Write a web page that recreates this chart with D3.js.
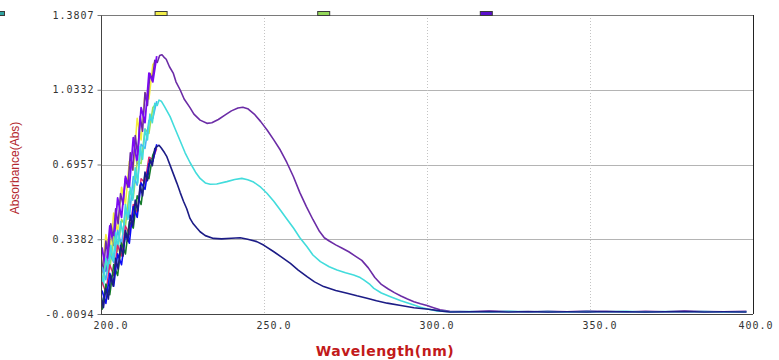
<!DOCTYPE html>
<html>
<head>
<meta charset="utf-8">
<script src="https://cdn.jsdelivr.net/npm/d3@7"></script>
<style>
  html, body { margin: 0; padding: 0; background: #fff; }
  svg { display: block; }
</style>
</head>
<body>
<div id="chart"></div>
<script>
// UV spectra, absorbance vs wavelength

const xTicks = [200, 250, 300, 350, 400];
const xTickLabels = ['200.0', '250.0', '300.0', '350.0', '400.0'];
const yTickLabels = ['-0.0094', '0.3382', '0.6957', '1.0332', '1.3807'];
const yMin = -0.0094, yMax = 1.3807;

const legendColors = ['#2fa3a0', '#f2ee4a', '#94d85a', '#5b10cc'];

// noisy rising edge, two sampling grids
const riseWlA = [200.0, 200.75, 201.5, 202.25, 203.0, 203.75, 204.5, 205.25, 206.0, 206.75, 207.5, 208.25,
  209.0, 209.75, 210.5, 211.25, 212.0, 212.75, 213.5, 214.25, 215.0, 215.75, 216.5, 217.25];
const riseWlB = [200.3, 201.5, 202.7, 203.9, 205.1, 206.3, 207.5, 208.7, 209.9, 211.1, 212.3, 213.5, 214.7, 215.9, 217.1];

const purpleRise = [0.26, 0.18, 0.33, 0.25, 0.41, 0.34, 0.48, 0.41, 0.55, 0.50, 0.62, 0.58,
  0.74, 0.66, 0.82, 0.73, 0.91, 0.84, 1.02, 0.96, 1.11, 1.08, 1.17, 1.16];
const cyanRise = [0.20, 0.12, 0.25, 0.18, 0.31, 0.24, 0.37, 0.30, 0.42, 0.36, 0.50, 0.43,
  0.58, 0.52, 0.67, 0.60, 0.77, 0.71, 0.85, 0.80, 0.92, 0.88, 0.97, 0.96];
const navyRise = [0.08, 0.02, 0.11, 0.06, 0.17, 0.12, 0.25, 0.20, 0.31, 0.26, 0.38, 0.33,
  0.45, 0.40, 0.52, 0.47, 0.59, 0.54, 0.65, 0.61, 0.71, 0.68, 0.76, 0.77];

const yellowRise = [0.18, 0.36, 0.26, 0.46, 0.37, 0.58, 0.50, 0.70, 0.66, 0.90, 0.80, 1.02, 0.99, 1.15, 1.17];
const violetRise = [0.30, 0.19, 0.40, 0.31, 0.53, 0.44, 0.63, 0.58, 0.81, 0.69, 0.95, 0.88, 1.11, 1.07, 1.19];
const greenRise = [0.13, 0.24, 0.20, 0.35, 0.28, 0.43, 0.40, 0.56, 0.53, 0.70, 0.69, 0.85, 0.83, 0.95, 0.97];
const skyRise = [0.21, 0.15, 0.27, 0.23, 0.38, 0.31, 0.47, 0.44, 0.63, 0.59, 0.78, 0.76, 0.89, 0.90, 0.98];
const magentaRise = [0.14, 0.09, 0.22, 0.17, 0.31, 0.26, 0.40, 0.36, 0.50, 0.46, 0.62, 0.60, 0.72, 0.71, 0.76];
const darkGreenRise = [0.01, 0.13, 0.08, 0.22, 0.17, 0.32, 0.27, 0.42, 0.39, 0.54, 0.50, 0.64, 0.62, 0.73, 0.77];
const blueRise = [0.10, 0.04, 0.18, 0.12, 0.27, 0.22, 0.36, 0.32, 0.49, 0.44, 0.60, 0.57, 0.69, 0.70, 0.78];

// smooth part after the peak
const purpleTailWl = [218.0, 218.7, 219.3, 220.0, 221.0, 222.2, 223.0, 224.3, 225.5, 227.3, 228.5, 230.4, 232.5,
  234.0, 236.0, 238.0, 240.0, 242.0, 243.5, 245.0, 247.0, 249.0, 251.0, 253.0, 255.0, 257.0, 259.0, 261.0,
  263.0, 265.0, 267.0, 268.5, 270.0, 272.0, 274.0, 276.0, 278.0, 280.0, 282.0, 284.0, 286.0, 288.0, 290.0,
  292.0, 294.0, 296.0, 298.0, 300.0, 302.0, 304.0];
const purpleTail = [1.192, 1.196, 1.185, 1.175, 1.14, 1.109, 1.07, 1.032, 0.99, 0.95, 0.92, 0.892, 0.877,
  0.880, 0.895, 0.915, 0.935, 0.948, 0.952, 0.945, 0.920, 0.885, 0.845, 0.800, 0.753, 0.695, 0.630, 0.555,
  0.490, 0.430, 0.375, 0.345, 0.330, 0.312, 0.296, 0.280, 0.260, 0.240, 0.205, 0.160, 0.128, 0.108, 0.090,
  0.074, 0.060, 0.048, 0.038, 0.030, 0.020, 0.010];

const cyanTailWl = [217.8, 218.5, 219.5, 221.2, 222.5, 224.3, 225.8, 227.3, 229.0, 230.4, 232.0, 233.5, 235.5,
  238.6, 241.0, 243.2, 245.0, 246.8, 249.0, 250.9, 253.0, 255.0, 257.0, 259.1, 261.0, 263.2, 265.0, 267.3,
  270.0, 272.4, 275.0, 277.5, 279.5, 280.6, 282.5, 283.7, 286.0, 288.8, 292.0, 296.0, 298.0, 300.5, 303.0];
const cyanTail = [0.985, 0.980, 0.955, 0.908, 0.860, 0.795, 0.740, 0.695, 0.650, 0.621, 0.600, 0.594, 0.595,
  0.606, 0.616, 0.621, 0.615, 0.604, 0.580, 0.552, 0.515, 0.474, 0.432, 0.389, 0.345, 0.303, 0.265, 0.234,
  0.210, 0.195, 0.182, 0.172, 0.160, 0.149, 0.128, 0.110, 0.088, 0.071, 0.052, 0.032, 0.022, 0.0125, 0.005];

const navyTailWl = [217.8, 218.5, 219.5, 220.2, 221.5, 223.3, 224.3, 225.3, 226.3, 227.3, 228.3, 229.4, 230.4,
  232.0, 234.5, 237.0, 240.0, 242.7, 245.0, 247.8, 250.0, 252.9, 255.5, 258.1, 260.5, 263.2, 265.5, 268.3,
  272.0, 275.5, 278.5, 281.6, 284.5, 287.8, 292.0, 296.0, 300.5, 304.0];
const navyTail = [0.775, 0.762, 0.740, 0.722, 0.670, 0.598, 0.555, 0.515, 0.480, 0.435, 0.410, 0.390, 0.373,
  0.355, 0.342, 0.340, 0.343, 0.345, 0.338, 0.327, 0.310, 0.281, 0.254, 0.226, 0.195, 0.164, 0.140, 0.118,
  0.100, 0.087, 0.075, 0.064, 0.052, 0.041, 0.030, 0.020, 0.0125, 0.005];

// flat baseline
const baseWl = [307, 313, 319, 325, 331, 337, 343, 349, 355, 361, 367, 373, 379, 385, 391, 398];
const purpleBase = [0.003, 0.001, 0.004, 0.002, 0.000, 0.003, 0.001, 0.004, 0.002, 0.000, 0.003, 0.001, 0.004, 0.002, 0.001, 0.003];
const cyanBase = [0.001, 0.002, 0.000, 0.003, 0.001, 0.002, 0.000, 0.002, 0.001, 0.003, 0.000, 0.002, 0.001, 0.002, 0.000, 0.001];
const navyBase = [0.000, 0.001, 0.002, 0.000, 0.002, 0.000, 0.001, 0.000, 0.002, 0.001, 0.000, 0.001, 0.002, 0.000, 0.001, 0.000];

const series = [
  { color: '#f4ec3c', wl: riseWlB, abs: yellowRise, w: 1.6 },
  { color: '#6b2ca6', wl: riseWlA.concat(purpleTailWl, baseWl), abs: purpleRise.concat(purpleTail, purpleBase), w: 1.6 },
  { color: '#7a08f2', wl: riseWlB, abs: violetRise, w: 1.8 },
  { color: '#9be05a', wl: riseWlB, abs: greenRise, w: 1.6 },
  { color: '#45b4f5', wl: riseWlB, abs: skyRise, w: 1.6 },
  { color: '#42dcdc', wl: riseWlA.concat(cyanTailWl, baseWl), abs: cyanRise.concat(cyanTail, cyanBase), w: 1.6 },
  { color: '#e0206e', wl: riseWlB, abs: magentaRise, w: 1.4 },
  { color: '#137a2a', wl: riseWlB, abs: darkGreenRise, w: 1.6 },
  { color: '#0a0af5', wl: riseWlB, abs: blueRise, w: 1.6 },
  { color: '#1c1c86', wl: riseWlA.concat(navyTailWl, baseWl), abs: navyRise.concat(navyTail, navyBase), w: 1.6 }
];

const width = 779, height = 360;
const plotLeft = 101, plotRight = 753, plotTop = 15, plotBottom = 314;

const svg = d3.select('#chart').append('svg')
  .attr('width', width)
  .attr('height', height)
  .attr('viewBox', [0, 0, width, height].join(' '));

const x = d3.scaleLinear().domain([200, 400]).range([plotLeft, plotRight]);
const y = d3.scaleLinear().domain([yMin, yMax]).range([plotBottom, plotTop]);

// tick rows sit evenly spaced across the value range
const yTicks = d3.range(yTickLabels.length).map(i => yMin + (yMax - yMin) * i / (yTickLabels.length - 1));

// grid
svg.append('g')
  .selectAll('line')
  .data(yTicks.slice(1, -1))
  .join('line')
    .attr('x1', plotLeft).attr('x2', plotRight)
    .attr('y1', d => Math.round(y(d)) + 0.5).attr('y2', d => Math.round(y(d)) + 0.5)
    .attr('stroke', '#b4b4b4');

svg.append('g')
  .selectAll('line')
  .data(xTicks.slice(1, -1))
  .join('line')
    .attr('x1', d => Math.round(x(d)) + 0.5).attr('x2', d => Math.round(x(d)) + 0.5)
    .attr('y1', plotTop).attr('y2', plotBottom)
    .attr('stroke', '#c4c4c4')
    .attr('stroke-dasharray', '1,2');

// frame
svg.append('line').attr('x1', plotLeft).attr('x2', plotRight).attr('y1', plotTop + 0.5).attr('y2', plotTop + 0.5).attr('stroke', '#7a7a7a');
svg.append('line').attr('x1', plotRight + 0.5).attr('x2', plotRight + 0.5).attr('y1', plotTop).attr('y2', plotBottom).attr('stroke', '#222');

// curves
svg.append('defs').append('clipPath').attr('id', 'plot')
  .append('rect').attr('x', plotLeft).attr('y', plotTop).attr('width', plotRight - plotLeft).attr('height', plotBottom - plotTop + 1);

const line = d3.line()
  .x(d => x(d[0]))
  .y(d => y(d[1]));

svg.append('g')
  .attr('clip-path', 'url(#plot)')
  .selectAll('path')
  .data(series)
  .join('path')
    .attr('d', s => line(s.wl.map((w, i) => [w, s.abs[i]])))
    .attr('fill', 'none')
    .attr('stroke', s => s.color)
    .attr('stroke-width', s => s.w)
    .attr('stroke-linejoin', 'round');

// axes
const yAxis = svg.append('g')
  .attr('transform', `translate(${plotLeft + 0.5},0)`)
  .call(d3.axisLeft(y).tickValues(yTicks).tickSize(4).tickPadding(3)
    .tickFormat((d, i) => yTickLabels[i]));
yAxis.select('.domain').attr('stroke', '#444').attr('d', `M0,${plotTop}V${plotBottom}`);
yAxis.selectAll('.tick line').attr('stroke', '#777');
yAxis.selectAll('.tick text')
  .attr('fill', '#333')
  .style('font-family', '"DejaVu Sans Mono", monospace')
  .style('font-size', '10px')
  .style('letter-spacing', '1px');

const xAxis = svg.append('g')
  .attr('transform', `translate(0,${plotBottom + 0.5})`)
  .call(d3.axisBottom(x).tickValues(xTicks).tickSize(0).tickPadding(7)
    .tickFormat((d, i) => xTickLabels[i]));
xAxis.select('.domain').attr('stroke', '#444').attr('d', `M${plotLeft},0H${plotRight}`);
xAxis.selectAll('.tick text')
  .attr('fill', '#333')
  .attr('text-anchor', 'start')
  .attr('dx', (d, i) => i === xTicks.length - 1 ? -15 : -8)
  .style('font-family', '"DejaVu Sans Mono", monospace')
  .style('font-size', '10px')
  .style('letter-spacing', '1px');

// axis titles
svg.append('text')
  .attr('transform', 'translate(19,168) rotate(-90)')
  .attr('text-anchor', 'middle')
  .attr('fill', '#b3262c')
  .style('font-family', '"Liberation Sans", Arial, sans-serif')
  .style('font-size', '12px')
  .text('Absorbance(Abs)');

svg.append('text')
  .attr('x', 385)
  .attr('y', 356)
  .attr('text-anchor', 'middle')
  .attr('fill', '#c21a1a')
  .style('font-family', '"DejaVu Sans", sans-serif')
  .style('font-weight', 'bold')
  .style('font-size', '14px')
  .style('letter-spacing', '0.5px')
  .text('Wavelength(nm)');

// legend swatches along the top edge
svg.append('g')
  .selectAll('rect')
  .data(legendColors)
  .join('rect')
    .attr('x', (d, i) => -8 + i * 162.6 + 0.5)
    .attr('y', 11.5)
    .attr('width', 12)
    .attr('height', 4)
    .attr('fill', d => d)
    .attr('stroke', '#3a3a3a')
    .attr('stroke-width', 1);
</script>
</body>
</html>
